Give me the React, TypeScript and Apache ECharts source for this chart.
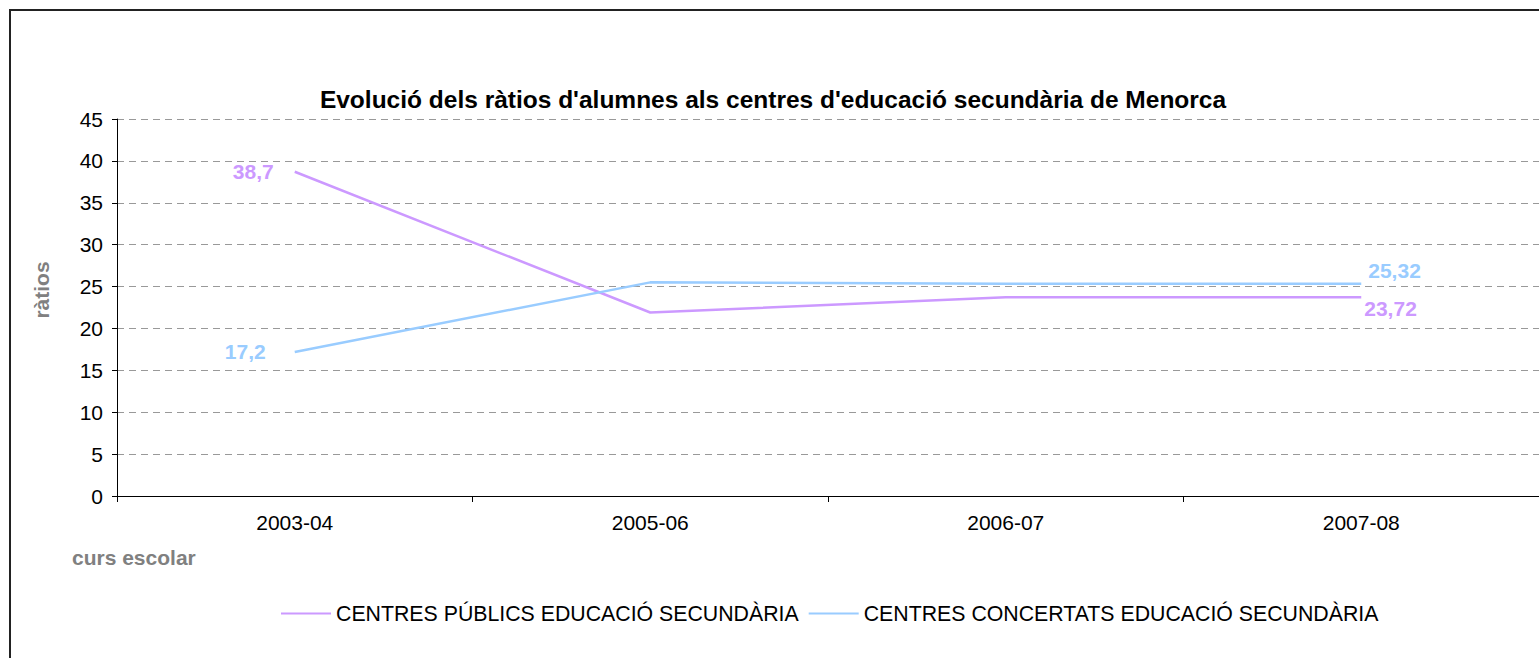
import React, { useEffect, useRef } from "react";
import * as echarts from "echarts";

const categories = ["2003-04", "2005-06", "2006-07", "2007-08"];
const publicValues = [38.7, 21.9, 23.72, 23.72];
const concertValues = [17.2, 25.5, 25.32, 25.32];
const publicName = "CENTRES PÚBLICS EDUCACIÓ SECUNDÀRIA";
const concertName = "CENTRES CONCERTATS EDUCACIÓ SECUNDÀRIA";
const titleText = "Evolució dels ràtios d'alumnes als centres d'educació secundària de Menorca";
const yName = "ràtios";
const xName = "curs escolar";

const FONT = "Arial, 'Liberation Sans', sans-serif";
const PURPLE = "#CC99FF";
const BLUE = "#99CCFF";

const fmt = (v: number) => String(v).replace(".", ",");

export default function App() {
  const ref = useRef<HTMLDivElement>(null);
  useEffect(() => {
    document.body.style.margin = "0";
    document.body.style.overflow = "hidden";
    const chart = echarts.init(ref.current!, undefined, { renderer: "svg" });
    const labelStyle = { fontFamily: FONT, fontSize: 21, fontWeight: "bold" as const };
    const hidden = { show: false };
    const pubData = publicValues.map((v, i) => {
      if (i === 0) return { value: v, label: { ...labelStyle, show: true, color: PURPLE, position: "left", distance: 21, formatter: fmt(v) } };
      if (i === publicValues.length - 1) return { value: v, label: { ...labelStyle, show: true, color: PURPLE, position: "right", distance: 3, offset: [0, 11], formatter: fmt(v) } };
      return { value: v, label: hidden };
    });
    const conData = concertValues.map((v, i) => {
      if (i === 0) return { value: v, label: { ...labelStyle, show: true, color: BLUE, position: "left", distance: 29, formatter: fmt(v) } };
      if (i === concertValues.length - 1) return { value: v, label: { ...labelStyle, show: true, color: BLUE, position: "right", distance: 7, offset: [0, -13], formatter: fmt(v) } };
      return { value: v, label: hidden };
    });
    chart.setOption({
      animation: false,
      backgroundColor: "#fff",
      title: {
        text: titleText,
        left: 773,
        textAlign: "center",
        top: 87,
        padding: 0,
        textStyle: { fontFamily: FONT, fontSize: 24.5, fontWeight: "bold", color: "#000" },
      },
      legend: {
        left: 281,
        top: 603,
        padding: 0,
        icon: "rect",
        itemWidth: 50,
        itemHeight: 2,
        itemGap: 10,
        textStyle: { fontFamily: FONT, fontSize: 21.3, color: "#000" },
        data: [publicName, concertName],
      },
      grid: { left: 117, top: 119, width: 1424, height: 377, containLabel: false },
      xAxis: {
        type: "category",
        data: categories,
        boundaryGap: true,
        axisLine: { lineStyle: { color: "#000", width: 1 } },
        axisTick: { show: true, length: 6, lineStyle: { color: "#000" } },
        axisLabel: { fontFamily: FONT, fontSize: 21, color: "#000", margin: 16 },
        splitLine: { show: false },
      },
      yAxis: {
        type: "value",
        min: 0,
        max: 45,
        interval: 5,
        axisLine: { show: true, lineStyle: { color: "#000", width: 1 } },
        axisTick: { show: true, length: 5, lineStyle: { color: "#000" } },
        axisLabel: { fontFamily: FONT, fontSize: 21, color: "#000", margin: 14 },
        splitLine: { show: true, lineStyle: { color: "#999", type: [7, 5], width: 1 } },
      },
      series: [
        {
          name: publicName,
          type: "line",
          data: pubData,
          symbol: "circle",
          symbolSize: 0.01,
          showAllSymbol: true,
          lineStyle: { color: PURPLE, width: 2.5 },
          itemStyle: { color: PURPLE },
        },
        {
          name: concertName,
          type: "line",
          data: conData,
          symbol: "circle",
          symbolSize: 0.01,
          showAllSymbol: true,
          lineStyle: { color: BLUE, width: 2.5 },
          itemStyle: { color: BLUE },
        },
      ],
      graphic: [
        {
          type: "polyline",
          shape: { points: [[10, 700], [10, 10], [1600, 10]] },
          style: { stroke: "#222", lineWidth: 2, fill: "none" },
          silent: true,
        },
        {
          type: "text",
          x: 41,
          y: 290,
          rotation: Math.PI / 2,
          style: {
            text: yName,
            fontFamily: FONT,
            fontSize: 21,
            fontWeight: "bold",
            fill: "#808080",
            align: "center",
            verticalAlign: "middle",
          },
        },
        {
          type: "text",
          x: 72,
          y: 557,
          style: {
            text: xName,
            fontFamily: FONT,
            fontSize: 21,
            fontWeight: "bold",
            fill: "#808080",
            align: "left",
            verticalAlign: "middle",
          },
        },
      ],
    });
    return () => chart.dispose();
  }, []);
  return <div ref={ref} style={{ width: 1539, height: 658 }} />;
}
